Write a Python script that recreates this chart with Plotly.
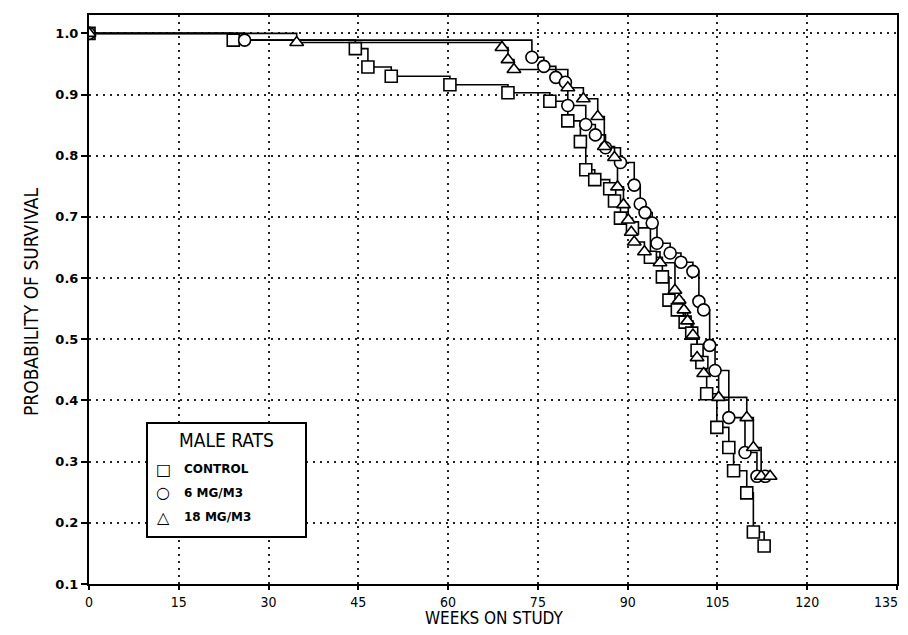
import plotly.graph_objects as go

# ---- Data ----
# Kaplan-Meier survival: drop times (weeks) and survival after each drop
control_weeks = [0, 24.1, 44.5, 46.6, 50.5, 60.3, 70.0, 77.0, 80.0, 82.1, 83.0, 84.5, 87.0, 87.8, 88.8,
                 90.8, 93.8, 95.8, 96.9, 98.3, 99.6, 100.7, 101.6, 102.4, 103.2, 104.9, 106.9, 107.7,
                 109.9, 111.0, 112.8]
control_surv = [1.0, 0.989, 0.975, 0.945, 0.930, 0.916, 0.903, 0.889, 0.857, 0.823, 0.777, 0.761, 0.746,
                0.726, 0.698, 0.682, 0.634, 0.602, 0.564, 0.548, 0.528, 0.510, 0.482, 0.462, 0.411,
                0.356, 0.323, 0.285, 0.249, 0.185, 0.162]

mg6_weeks = [0, 26.0, 74.0, 76.0, 78.0, 79.6, 80.0, 83.0, 84.6, 86.3, 88.8, 91.1, 92.1, 92.9, 94.1, 94.9,
             97.1, 98.9, 100.9, 101.9, 102.7, 103.7, 104.6, 106.9, 109.6, 111.6, 113.0]
mg6_surv = [1.0, 0.989, 0.961, 0.946, 0.928, 0.920, 0.882, 0.851, 0.834, 0.813, 0.789, 0.752, 0.721,
            0.707, 0.690, 0.657, 0.641, 0.626, 0.611, 0.562, 0.548, 0.490, 0.449, 0.372, 0.315, 0.276,
            0.276]

mg18_weeks = [0, 34.7, 69.0, 70.0, 71.0, 80.0, 82.6, 85.0, 86.1, 87.8, 88.3, 89.3, 90.1, 90.6, 91.1,
              92.8, 95.4, 97.9, 98.6, 99.4, 100.0, 100.9, 101.6, 102.7, 105.2, 109.9, 111.0, 112.3,
              113.8]
mg18_surv = [1.0, 0.985, 0.977, 0.957, 0.941, 0.911, 0.893, 0.864, 0.815, 0.797, 0.749, 0.720, 0.695,
             0.675, 0.659, 0.643, 0.625, 0.580, 0.564, 0.548, 0.530, 0.507, 0.470, 0.444, 0.405, 0.372,
             0.323, 0.276, 0.276]

x_ticks = [0, 15, 30, 45, 60, 75, 90, 105, 120, 135]
x_tick_labels = ["0", "15", "30", "45", "60", "75", "90", "105", "120", "135"]
y_ticks = [0.1, 0.2, 0.3, 0.4, 0.5, 0.6, 0.7, 0.8, 0.9, 1.0]
y_tick_labels = ["0.1", "0.2", "0.3", "0.4", "0.5", "0.6", "0.7", "0.8", "0.9", "1.0"]

legend_title = "MALE RATS"
group_names = ["CONTROL", "6 MG/M3", "18 MG/M3"]
group_symbols = ["square", "circle", "triangle-up"]
legend_glyphs = ["\u25A1", "\u25CB", "\u25B3"]

groups = list(zip(group_names, [control_weeks, mg6_weeks, mg18_weeks],
                  [control_surv, mg6_surv, mg18_surv], group_symbols))

fig = go.Figure()

for name, wk, sv, sym in groups:
    fig.add_trace(go.Scatter(x=wk, y=sv, mode="lines", line=dict(color="black", width=1.6, shape="hv"),
                             showlegend=False, hoverinfo="skip"))
for name, wk, sv, sym in groups:
    fig.add_trace(go.Scatter(x=wk, y=sv, mode="markers", name=name,
                             marker=dict(symbol=sym, size=12, color="white",
                                         line=dict(color="black", width=1.6)),
                             showlegend=False))

cond = "Liberation Sans Narrow, DejaVu Sans Condensed, Arial Narrow, sans-serif"

# The page body has an 8px margin, so design in page pixels and shift;
# keep the figure small enough that the page does not scroll.
OFF = 8
W, H = 908 - 2 * OFF, 635 - 2 * OFF
# plot area in page pixels: x 89..897, y 15..584
L, R, T, B = 89 - OFF, 897 - OFF, 15 - OFF, 584 - OFF


def px(x):
    return (x - OFF - L) / (R - L)


def py(y):
    return (B - (y - OFF)) / (B - T)


annotations = [
    dict(text="WEEKS ON STUDY", x=px(494), y=py(618),
         xref="paper", yref="paper", showarrow=False, xanchor="center", yanchor="middle",
         font=dict(family=cond, size=17, color="black")),
    dict(text="PROBABILITY OF SURVIVAL", x=px(31), y=py(302), textangle=-90,
         xref="paper", yref="paper", showarrow=False, xanchor="center", yanchor="middle",
         font=dict(family=cond, size=19, color="black")),
    dict(text=legend_title, x=px(226), y=py(440), xref="paper", yref="paper", showarrow=False,
         xanchor="center", yanchor="middle", font=dict(family=cond, size=19, color="black")),
    # last x tick label, kept inside the visible page edge
    dict(text=x_tick_labels[-1], x=px(900), y=py(592), xref="paper", yref="paper", showarrow=False,
         xanchor="right", yanchor="top", font=dict(family=cond, size=14, color="black")),
]
entry_y = [469, 493, 517]
for nm, gl, ey in zip(group_names, legend_glyphs, entry_y):
    annotations.append(dict(text=gl, x=px(163), y=py(ey), xref="paper", yref="paper", showarrow=False,
                            xanchor="center", yanchor="middle",
                            font=dict(family="DejaVu Sans", size=16, color="black")))
    annotations.append(dict(text=nm, x=px(182), y=py(ey), xref="paper", yref="paper", showarrow=False,
                            xanchor="left", yanchor="middle",
                            font=dict(family="DejaVu Sans", size=12, color="black", weight="bold")))

shapes = [dict(type="rect", xref="paper", yref="paper", x0=px(147), x1=px(306), y0=py(537), y1=py(423),
               line=dict(color="black", width=2), fillcolor="white", layer="above")]

grid_dash = "2px,5px"

fig.update_layout(
    width=W, height=H,
    margin=dict(l=L, r=W - R, t=T, b=H - B),
    paper_bgcolor="white", plot_bgcolor="white",
    showlegend=False,
    annotations=annotations,
    shapes=shapes,
    xaxis=dict(
        range=[0, 135], tickmode="array", tickvals=x_ticks, ticktext=x_tick_labels[:-1] + [""],
        automargin=False,
        ticks="outside", ticklen=4, tickwidth=2, tickcolor="black",
        showline=True, linewidth=2, linecolor="black", mirror=True,
        showgrid=True, gridcolor="#222", griddash=grid_dash, gridwidth=1.8,
        zeroline=False,
        tickfont=dict(family=cond, size=14, color="black"),
    ),
    yaxis=dict(
        range=[0.1, 1.030], tickmode="array", tickvals=y_ticks, ticktext=y_tick_labels, automargin=False,
        ticks="outside", ticklen=6, tickwidth=2, tickcolor="black",
        showline=True, linewidth=2, linecolor="black", mirror=True,
        showgrid=True, gridcolor="#222", griddash=grid_dash, gridwidth=1.8,
        zeroline=False,
        tickfont=dict(family="DejaVu Sans", size=13, color="black", weight="bold"),
    ),
)

fig.write_html("out.html")
